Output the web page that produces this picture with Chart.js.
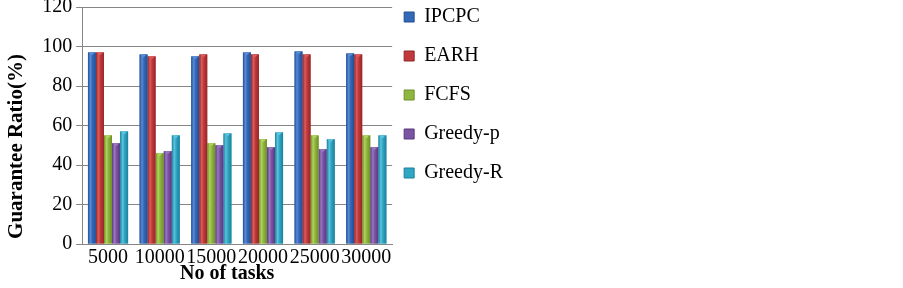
<!DOCTYPE html>
<html>
<head>
<meta charset="utf-8">
<script src="https://cdn.jsdelivr.net/npm/chart.js@4.4.0/dist/chart.umd.min.js"></script>
<style>
  html, body { margin: 0; padding: 0; background: #fff; }
  #wrap { position: absolute; left: 0; top: 0; width: 520px; height: 288px; }
</style>
</head>
<body>
<div id="wrap"><canvas id="c"></canvas></div>
<script>
const categories = ["5000", "10000", "15000", "20000", "25000", "30000"];
const seriesNames = ["IPCPC", "EARH", "FCFS", "Greedy-p", "Greedy-R"];
const ipcpc   = [97, 96, 95, 97, 97.5, 96.5];
const earh    = [97, 95, 96, 96, 96, 96];
const fcfs    = [55, 46, 51, 53, 55, 55];
const greedyP = [51, 47, 50, 49, 48, 49];
const greedyR = [57, 55, 56, 56.5, 53, 55];
const yTicks  = [0, 20, 40, 60, 80, 100, 120];

const colors  = ["#3468b8", "#c0393b", "#8fb63e", "#7a53a3", "#2fa6c4"];
const darker  = ["#1f4f93", "#962526", "#6d8f28", "#583a7e", "#1c7f99"];
const lighter = ["#5b8ad6", "#db5c5d", "#b0d35e", "#9a77c2", "#5cc4de"];

const values = [ipcpc, earh, fcfs, greedyP, greedyR];
const datasets = seriesNames.map((n, i) => ({
  label: n,
  data: values[i],
  backgroundColor: colors[i],
  borderWidth: 0,
  categoryPercentage: 0.78,
  barPercentage: 0.98
}));

const barLook = {
  id: 'barLook',
  afterDatasetsDraw(chart) {
    const ctx = chart.ctx;
    chart.data.datasets.forEach((ds, di) => {
      const meta = chart.getDatasetMeta(di);
      meta.data.forEach(el => {
        const x0 = el.x - el.width / 2, x1 = el.x + el.width / 2;
        const top = el.y, bottom = el.base;
        ctx.save();
        const g = ctx.createLinearGradient(x0, 0, x1, 0);
        g.addColorStop(0, darker[di]);
        g.addColorStop(0.3, lighter[di]);
        g.addColorStop(0.55, colors[di]);
        g.addColorStop(1, darker[di]);
        ctx.fillStyle = g;
        ctx.fillRect(x0, top, x1 - x0, bottom - top);
        ctx.fillStyle = lighter[di];
        ctx.beginPath();
        ctx.moveTo(x0 + 1, top);
        ctx.lineTo(x1 - 1, top);
        ctx.lineTo(el.x, top + 3);
        ctx.closePath();
        ctx.fill();
        ctx.restore();
      });
    });
  }
};

// nudge legend and axis titles to where the reference has them
const layoutTweaks = {
  id: 'layoutTweaks',
  afterLayout(chart) {
    const lg = chart.legend;
    if (lg) { lg.left -= 7; lg.right -= 7; lg.top -= 19; lg.bottom -= 19; }
    const xs = chart.scales.x, ys = chart.scales.y;
    if (xs && !xs._titleShifted) {
      const orig = xs.drawTitle;
      xs.drawTitle = function () {
        const l = this.left, r = this.right;
        this.left -= 10; this.right -= 10;
        orig.apply(this, arguments);
        this.left = l; this.right = r;
      };
      xs._titleShifted = true;
    }
    if (ys && !ys._titleShifted) {
      const orig = ys.drawTitle;
      ys.drawTitle = function () {
        const t = this.top;
        this.top += 42;
        orig.apply(this, arguments);
        this.top = t;
      };
      ys._titleShifted = true;
    }
  }
};

new Chart(document.getElementById('c'), {
  type: 'bar',
  data: { labels: categories, datasets },
  plugins: [barLook, layoutTweaks],
  options: {
    responsive: true,
    maintainAspectRatio: false,
    animation: false,
    layout: { padding: { top: 7, right: 0, left: 4, bottom: 4 } },
    plugins: {
      tooltip: { enabled: false },
      legend: {
        position: 'right',
        align: 'start',
        labels: {
          font: { family: 'Liberation Serif', size: 20 },
          color: '#000',
          boxWidth: 10,
          boxHeight: 10,
          padding: 19,
          generateLabels(chart) {
            return seriesNames.map((n, i) => ({
              text: n, fillStyle: colors[i], strokeStyle: darker[i], lineWidth: 1, datasetIndex: i, hidden: false
            }));
          }
        }
      }
    },
    scales: {
      x: {
        grid: { display: false, drawTicks: false },
        border: { display: true, color: '#868686', width: 1 },
        ticks: { font: { family: 'Liberation Serif', size: 20, lineHeight: 1 }, color: '#000', padding: 4, maxRotation: 0, autoSkip: false },
        title: { display: true, text: 'No of tasks', font: { family: 'Liberation Serif', size: 20, weight: 'bold', lineHeight: 1 }, color: '#000', padding: { top: -8, bottom: 0 } }
      },
      y: {
        min: 0, max: 120,
        afterBuildTicks(axis) { axis.ticks = yTicks.map(v => ({ value: v })); },
        afterFit(scale) { scale.paddingTop = 0; scale.paddingBottom = 0; },
        grid: { color: '#868686', lineWidth: 1, tickLength: 6, drawTicks: true },
        border: { display: true, color: '#868686', width: 1 },
        ticks: { font: { family: 'Liberation Serif', size: 20 }, color: '#000', padding: 4 },
        title: { display: true, text: 'Guarantee Ratio(%)', font: { family: 'Liberation Serif', size: 21, weight: 'bold' }, color: '#000', padding: { top: 0, bottom: 9 } }
      }
    }
  }
});
</script>
</body>
</html>
